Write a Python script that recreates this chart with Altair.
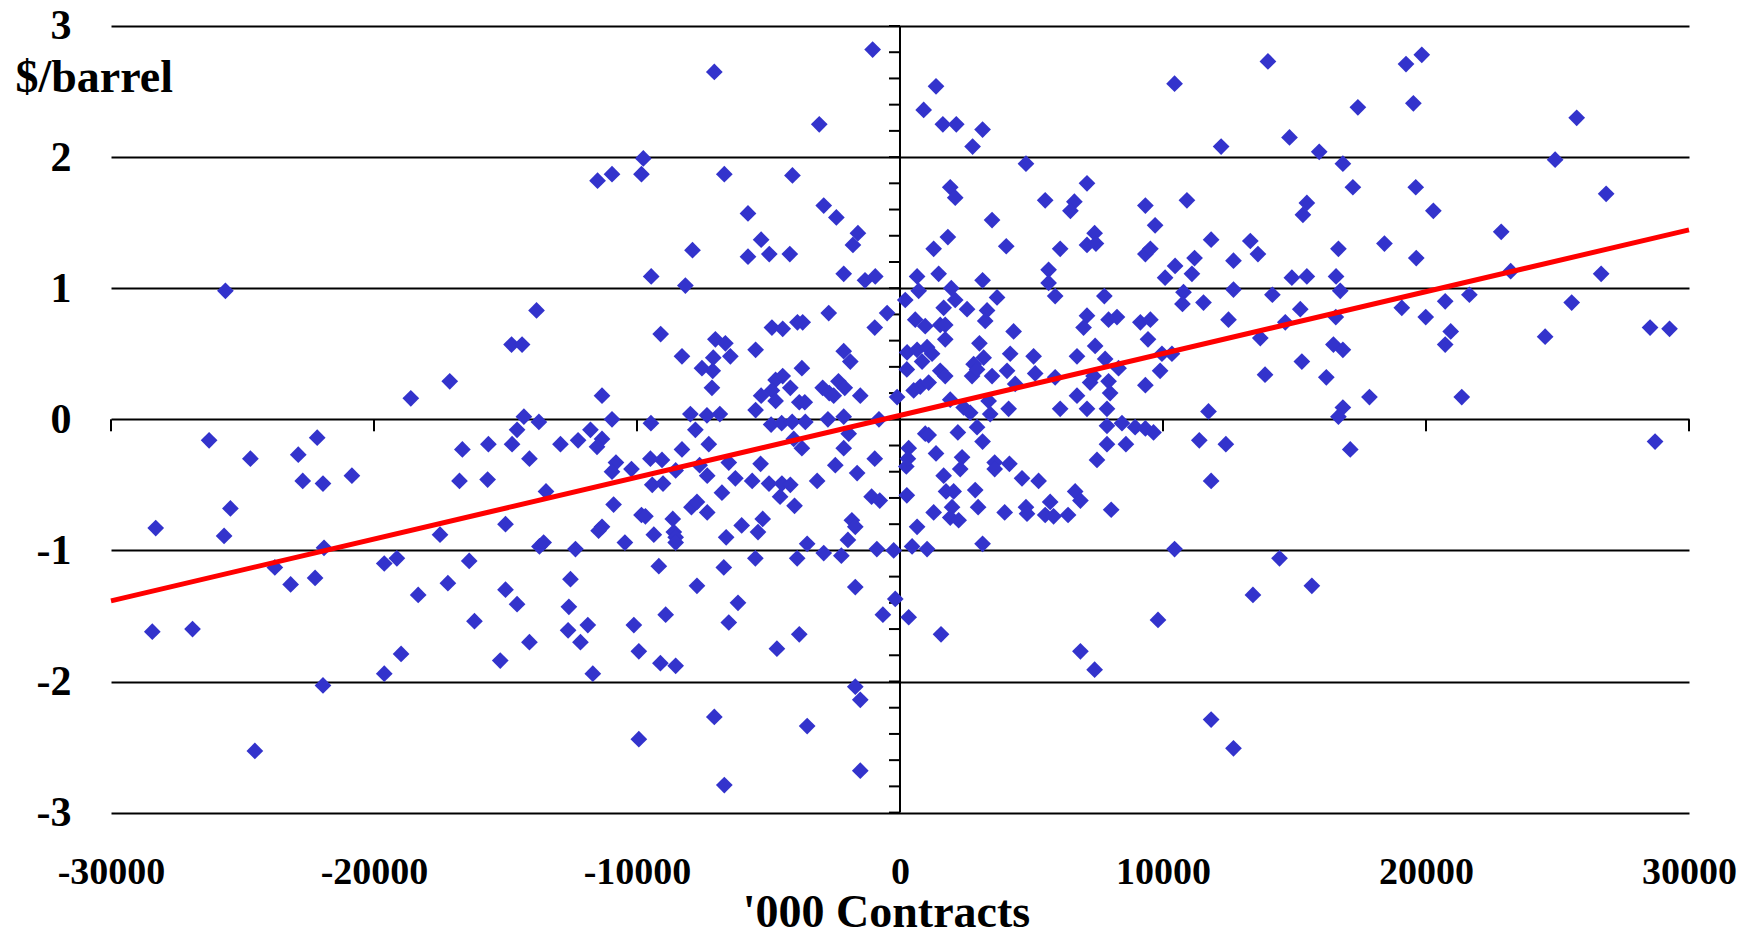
import altair as alt
import pandas as pd

# ---- scatter values ('000 contracts, $/barrel) ----
far_left_x = [-28300, -28430, -26900, -26270, -25650, -25700, -25460, -24700, -24530, -23770,
              -23170, -22880, -22710, -22160, -22240, -21940, -21900, -21940, -20840, -19610,
              -19130, -18600, -17120, -16640, -15650, -16750, -15680, -15000, -17490, -16380,
              -17190, -18320, -16180, -18970, -19610, -15200, -15000, -14750, -14770]
far_left_y = [-0.83, -1.62, -1.60, -0.16, 0.98, -0.89, -0.68, -0.30, -2.53, -1.13,
              -1.26, -0.27, -0.47, -0.14, -1.21, -0.49, -0.98, -2.03, -0.43, -1.10,
              -1.06, 0.16, 0.29, -0.23, -0.19, -0.47, -0.46, -0.80, -0.88, -1.08,
              -1.25, -1.34, -1.54, -1.79, -1.94, -1.84, -1.30, -0.19, 0.57]

upper_left_x = [-1040, -7060, -3070, -9760, -9830, -10950, -11500, -6680, -4090, -5780,
                -2900, -2420, -1600, -1790, -5280, -5780, -4970, -4190, -7890, -9460,
                -8160, -2140, -1330, -940, -13820, -14370, -9100, -11330, -8290, -7530,
                -7120, -7150, -7020, -6640, -7100, -6450, -5490, -4870, -4460, -3900,
                -3700, -2710, -2140, -1890, -960, -490, 200, 270, 260, -3730,
                -4730, -4460, -5280, -4870, -4730, -4170, -3830, -3620, -2940, -2690,
                -2340, -2100, -2520, -1510, -110, -5490, -14300, -13730, -10950, -9470,
                -7970, -7340, -6850, -2740, -2140, -800, -4900, -4500, -4100, -3600]
upper_left_y = [2.82, 2.65, 2.25, 1.99, 1.87, 1.87, 1.82, 1.87, 1.86, 1.57,
                1.63, 1.54, 1.42, 1.33, 1.37, 1.24, 1.26, 1.26, 1.29, 1.09,
                1.02, 1.11, 1.06, 1.09, 0.83, 0.57, 0.65, 0.18, 0.48, 0.39,
                0.37, 0.24, 0.61, 0.58, 0.47, 0.48, 0.53, 0.70, 0.69, 0.74,
                0.74, 0.81, 0.52, 0.44, 0.70, 0.81, 0.91, 0.51, 0.38, 0.39,
                0.30, 0.33, 0.18, 0.22, 0.14, 0.24, 0.13, 0.13, 0.24, 0.20,
                0.29, 0.24, 0.18, 0.18, 0.17, 0.07, 0.02, -0.02, 0.00, -0.03,
                0.04, 0.03, 0.04, 0.00, 0.02, 0.00, -0.04, -0.03, -0.02, -0.02]

upper_mid_x = [1370, 900, 1630, 2140, 3140, 2760, 4790, 1910, 2100, 3500,
               1820, 1280, 4040, 1470, 650, 710, 3140, 1950, 3690, 2100,
               1660, 2550, 3310, 580, 960, 1530, 1720, 3240, 4320, 1720,
               3020, 650, 1030, 1220, 840, 1530, 1720, 2800, 3180, 3500,
               2740, 2930, 4070, 4190, 770, 1090, 520, 1910, 2420, 2670,
               3370, 3430, 4130, 4380, 5080, 5140, 5520, 7110, 6630, 6480,
               6090, 7110, 7400, 7450, 5650, 5650, 5900, 7770, 7110, 6980,
               7930, 8250, 9330, 9700, 9330, 9520, 10080, 10460, 10910, 11100,
               11200, 10780, 10740, 11540, 9140, 9520, 9430, 9960, 10340, 9890,
               9330, 6730, 7420, 7800, 8310, 7360, 7230, 6730, 7930, 7990,
               6090, 7110, 7870, 5900, 11730, 10440, 12210, 13990, 14810, 11830,
               12680, 13320, 13610, 14900, 15470, 12680, 14160, 15220, 12490, 14650,
               13700, 15280, 13880, 15320, 15470]
upper_mid_y = [2.54, 2.36, 2.25, 2.25, 2.21, 2.08, 1.95, 1.77, 1.69, 1.52,
               1.39, 1.30, 1.32, 1.11, 1.09, 0.98, 1.06, 1.00, 0.93, 0.91,
               0.85, 0.84, 0.83, 0.76, 0.71, 0.72, 0.72, 0.75, 0.67, 0.61,
               0.58, 0.53, 0.55, 0.50, 0.44, 0.37, 0.33, 0.42, 0.47, 0.33,
               0.33, 0.38, 0.37, 0.50, 0.25, 0.28, 0.22, 0.15, 0.09, 0.05,
               0.14, 0.04, 0.08, 0.27, 0.48, 0.35, 1.67, 1.80, 1.66, 1.59,
               1.30, 1.33, 1.42, 1.34, 1.14, 1.04, 0.94, 0.94, 0.79, 0.70,
               0.76, 0.78, 1.63, 1.48, 1.26, 1.30, 1.08, 1.17, 1.67, 1.11,
               1.23, 0.97, 0.88, 0.89, 0.74, 0.76, 0.61, 0.50, 0.50, 0.37,
               0.26, 0.48, 0.56, 0.46, 0.39, 0.33, 0.28, 0.18, 0.29, 0.20,
               0.08, 0.08, 0.08, 0.32, 0.06, 2.56, 2.08, 2.73, 2.15, 1.37,
               1.21, 1.36, 1.26, 1.08, 1.09, 0.99, 0.95, 0.84, 0.76, 0.74,
               0.62, 0.44, 0.34, 1.56, 1.65]

right_x = [19840, 19240, 19520, 17410, 25730, 15940, 16840, 24910, 17220, 19610,
           26850, 20280, 22860, 18420, 16670, 19630, 16580, 16740, 23220, 26660,
           21650, 20730, 19080, 19990, 25540, 16570, 20940, 20730, 16480, 16840,
           24530, 28520, 29260, 16210, 17850, 21360, 16840, 16670, 17120, 28710,
           15660]
right_y = [2.78, 2.71, 2.41, 2.38, 2.30, 2.04, 1.95, 1.98, 1.77, 1.77,
           1.72, 1.59, 1.43, 1.34, 1.30, 1.23, 1.09, 0.98, 1.13, 1.11,
           0.95, 0.90, 0.85, 0.78, 0.89, 0.78, 0.67, 0.57, 0.57, 0.53,
           0.63, 0.70, 0.69, 0.32, 0.17, 0.17, 0.09, 0.02, -0.23, -0.17,
           -1.27]

lower_mid_x = [960, 1090, 2200, 2930, 3140, 330, 1370, 2360, 240, 2290,
               3600, 3600, 4160, 1660, 4640, 5270, 260, 1750, 2040, 2860,
               1980, 2970, 1280, 1910, 2230, 3980, 4790, 4830, 5710, 5520,
               5840, 6390, 6660, 6860, 7490, 8030, 7870, 8590, 7870, 8440,
               8940, 9330, 9640, 11380, 12390, 11830, 650, 460, 1030, 3140,
               10440, 14430, 13420, 330, 1560, 9810, 6860, 7400, 11830, 12680,
               300]
lower_mid_y = [-0.11, -0.12, -0.10, -0.06, -0.17, -0.22, -0.26, -0.29, -0.36, -0.38,
               -0.33, -0.38, -0.34, -0.43, -0.45, -0.47, -0.58, -0.55, -0.55, -0.54,
               -0.67, -0.67, -0.71, -0.75, -0.77, -0.71, -0.67, -0.72, -0.63, -0.73,
               -0.74, -0.73, -0.55, -0.62, -0.31, -0.69, -0.19, -0.19, -0.05, -0.03,
               -0.06, -0.07, -0.10, -0.16, -0.19, -0.47, -0.82, -0.97, -0.99, -0.95,
               -0.99, -1.06, -1.34, -1.51, -1.64, -1.53, -1.77, -1.91, -2.29, -2.51,
               -0.30]

lower_left_x = [-14560, -14090, -12910, -12240, -11770, -11330, -11520, -10800, -10950, -10210,
                -9490, -9050, -8290, -7780, -7270, -9420, -9010, -8530, -7620, -7330,
                -6510, -6770, -6260, -5620, -5300, -4980, -4490, -4170, -4560, -4010,
                -3150, -2460, -2140, -1630, -960, -1080, -770, -4040, -3730, -1950,
                -13460, -14560, -13710, -13550, -12340, -12530, -10890, -11330, -11460, -10460,
                -9830, -9680, -9360, -9170, -8640, -8600, -8530, -8530, -7720, -7930,
                -7720, -7330, -6700, -6610, -6020, -5400, -5220, -5500, -3910, -3530,
                -2900, -2230, -1980, -1700, -1830, -1700, -880, -240, -180, -650,
                -12590, -12620, -11870, -12150, -14090, -10120, -9930, -8910, -9110, -8530,
                -11680, -6510, -6160, -4680, -3830, -1700, -1510, -3530, -7060, -9930,
                -6680, -1510]
lower_left_y = [-0.08, -0.30, -0.19, -0.16, -0.08, -0.15, -0.21, -0.33, -0.40, -0.38,
                -0.30, -0.31, -0.23, -0.08, -0.19, -0.50, -0.49, -0.39, -0.35, -0.43,
                -0.33, -0.56, -0.45, -0.47, -0.34, -0.49, -0.49, -0.50, -0.59, -0.66,
                -0.47, -0.35, -0.22, -0.41, -0.30, -0.59, -0.62, -0.15, -0.22, -0.11,
                -0.55, -1.41, -0.97, -0.94, -0.99, -1.22, -0.65, -0.82, -0.85, -0.94,
                -0.73, -0.74, -0.88, -1.12, -0.76, -0.86, -0.90, -0.94, -1.27, -0.67,
                -0.63, -0.71, -1.13, -0.90, -0.81, -0.86, -0.76, -1.06, -1.06, -0.95,
                -1.02, -1.04, -0.92, -1.28, -0.77, -0.82, -0.99, -1.00, -1.37, -1.49,
                -1.43, -1.61, -1.57, -1.70, -1.70, -1.57, -1.77, -1.49, -1.86, -1.88,
                -1.94, -1.55, -1.40, -1.75, -1.64, -2.04, -2.14, -2.34, -2.27, -2.44,
                -2.79, -2.68]

# trend line end points
trend_x = [-30000, 30000]
trend_y = [-1.385, 1.445]

# axis tick values
x_ticks = [-30000, -20000, -10000, 0, 10000, 20000, 30000]
y_ticks = [-3, -2, -1, 0, 1, 2, 3]
y_minor = [-3.0, -2.8, -2.6, -2.4, -2.2, -2.0, -1.8, -1.6, -1.4, -1.2, -1.0,
           -0.8, -0.6, -0.4, -0.2, 0.0, 0.2, 0.4, 0.6, 0.8, 1.0, 1.2, 1.4,
           1.6, 1.8, 2.0, 2.2, 2.4, 2.6, 2.8, 3.0]

xs = far_left_x + upper_left_x + upper_mid_x + right_x + lower_mid_x + lower_left_x
ys = far_left_y + upper_left_y + upper_mid_y + right_y + lower_mid_y + lower_left_y
pts = pd.DataFrame({"x": xs, "y": ys})
trend = pd.DataFrame({"x": trend_x, "y": trend_y})
vaxis = pd.DataFrame({"x": [0], "y": [y_ticks[0]], "y2": [y_ticks[-1]]})
xtick_df = pd.DataFrame({"x": x_ticks, "y": [0] * len(x_ticks)})
ytick_df = pd.DataFrame({"x": [0] * len(y_minor), "y": y_minor})

FONT = "Liberation Serif"

xscale = alt.Scale(domain=[-30000, 30000], nice=False, zero=False)
yscale = alt.Scale(domain=[-3, 3], nice=False, zero=False)

x_axis = alt.Axis(
    values=x_ticks, labelExpr="'' + datum.value", grid=False, domain=False,
    ticks=False, tickSize=0, labelFlush=False, labelOverlap=False, labelBound=False,
    labelFont=FONT, labelFontSize=38, labelFontWeight="bold", labelColor="black",
    labelBaseline="alphabetic", labelPadding=71,
    title="'000 Contracts", titleFont=FONT, titleFontSize=46, titleFontWeight="bold",
    titleColor="black", titleX=775, titleY=114, titleAlign="center",
    titleBaseline="alphabetic", titleAnchor="start",
)
y_axis = alt.Axis(
    values=y_ticks, labelExpr="'' + datum.value", grid=True, gridColor="black",
    gridWidth=2, gridOpacity=1, domain=False, ticks=False, tickSize=0,
    labelFlush=False, labelOverlap=False, labelBound=False,
    labelFont=FONT, labelFontSize=42, labelFontWeight="bold", labelColor="black",
    labelBaseline="middle", labelAlign="right", labelPadding=40,
    title="$/barrel", titleFont=FONT, titleFontSize=46, titleFontWeight="bold",
    titleColor="black", titleAngle=0, titleAlign="left", titleBaseline="alphabetic",
    titleX=-96, titleY=66, titleAnchor="start",
)

X = alt.X("x:Q", scale=xscale, axis=x_axis)
Y = alt.Y("y:Q", scale=yscale, axis=y_axis)

vline = alt.Chart(vaxis).mark_rule(color="black", strokeWidth=2).encode(
    x=X, y=Y, y2="y2:Q")
xticks_layer = alt.Chart(xtick_df).mark_rule(color="black", strokeWidth=2, y2Offset=12).encode(
    x=X, y=Y, y2="y:Q")
yticks_layer = alt.Chart(ytick_df).mark_rule(color="black", strokeWidth=2, x2Offset=-11).encode(
    x=X, x2="x:Q", y=Y)
points = alt.Chart(pts).mark_point(
    shape="diamond", filled=True, size=280, color="#3333CC", opacity=1).encode(x=X, y=Y)
trend_line = alt.Chart(trend).mark_line(color="#FF0000", strokeWidth=5).encode(x=X, y=Y)

chart = alt.layer(vline, xticks_layer, yticks_layer, points, trend_line).properties(
    width=1578, height=786.6,
    autosize=alt.AutoSizeParams(type="none"),
    padding={"left": 103, "top": 18, "right": 50, "bottom": 115},
    background="white",
).configure_view(strokeWidth=0)

chart.save("out.html", embed_options={"renderer": "svg", "actions": False})
